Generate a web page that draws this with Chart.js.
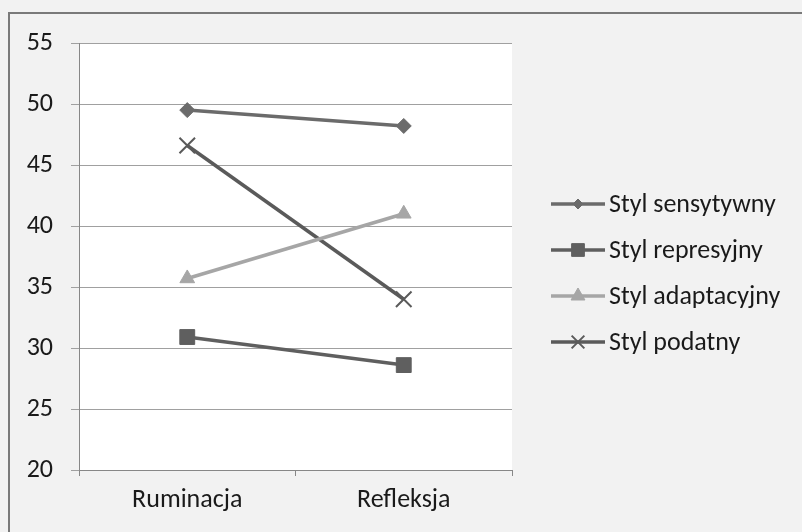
<!DOCTYPE html>
<html>
<head>
<meta charset="utf-8">
<script src="https://cdn.jsdelivr.net/npm/chart.js@4/dist/chart.umd.min.js"></script>
<style>
html,body{margin:0;padding:0;background:#f2f2f2;}
canvas{display:block;}
</style>
</head>
<body>
<canvas id="c" width="802" height="532"></canvas>
<script>
const categories = ['Ruminacja', 'Refleksja'];
const seriesNames = ['Styl sensytywny', 'Styl represyjny', 'Styl adaptacyjny', 'Styl podatny'];
const sensytywny = [49.5, 48.2];
const represyjny = [30.9, 28.6];
const adaptacyjny = [35.7, 41.0];
const podatny = [46.6, 34.0];
const yTicks = [20, 25, 30, 35, 40, 45, 50, 55];

const FONT = "Carlito, 'Liberation Sans Narrow', Lato, sans-serif";
const FONT_SIZE = 26;

const styles = [
  {color: '#6b6b6b', point: 'rectRot', r: 7.5, bw: 1, lw: 3.5, lr: 5},
  {color: '#5f5f5f', point: 'rect', r: 10.5, bw: 1, lw: 3.5, lr: 9},
  {color: '#a6a6a6', point: 'triangle', r: 8.5, bw: 1, lw: 3.5, lr: 8},
  {color: '#5a5a5a', point: 'crossRot', r: 11, bw: 2, lw: 3.5, lr: 9}
];
const values = [sensytywny, represyjny, adaptacyjny, podatny];

const datasets = values.map((v, i) => ({
  label: seriesNames[i],
  data: v,
  borderColor: styles[i].color,
  backgroundColor: styles[i].color,
  borderWidth: styles[i].lw,
  pointStyle: styles[i].point,
  pointRadius: styles[i].r,
  pointBorderWidth: styles[i].bw,
  pointBackgroundColor: styles[i].color,
  pointBorderColor: styles[i].color,
  tension: 0,
  fill: false
}));

const bgPlugin = {
  id: 'bg',
  beforeDraw(chart) {
    const ctx = chart.ctx, a = chart.chartArea;
    ctx.save();
    ctx.fillStyle = '#f2f2f2';
    ctx.fillRect(0, 0, chart.width, chart.height);
    ctx.fillStyle = '#ffffff';
    ctx.fillRect(a.left, a.top, a.right - a.left, a.bottom - a.top);
    ctx.strokeStyle = '#7a7a7a';
    ctx.lineWidth = 2;
    ctx.strokeRect(9, 13, 900, 900);
    ctx.restore();
  }
};

const legendPlugin = {
  id: 'customLegend',
  afterDraw(chart) {
    const ctx = chart.ctx;
    const x0 = 551, x1 = 605, tx = 609, y0 = 204, dy = 46;
    chart.data.datasets.forEach((ds, i) => {
      const y = y0 + i * dy;
      const s = styles[i];
      ctx.save();
      ctx.strokeStyle = s.color;
      ctx.lineWidth = s.lw;
      ctx.beginPath();
      ctx.moveTo(x0, y);
      ctx.lineTo(x1, y);
      ctx.stroke();
      ctx.fillStyle = s.color;
      ctx.strokeStyle = s.color;
      ctx.lineWidth = s.bw;
      Chart.helpers.drawPoint(ctx, {pointStyle: s.point, rotation: 0, borderWidth: s.bw, radius: s.lr}, (x0 + x1) / 2, y);
      ctx.restore();
      ctx.save();
      ctx.font = FONT_SIZE + 'px ' + FONT;
      ctx.fillStyle = '#1a1a1a';
      ctx.textBaseline = 'middle';
      ctx.textAlign = 'left';
      ctx.fillText(ds.label, tx, y + 1);
      ctx.restore();
    });
  }
};

new Chart(document.getElementById('c'), {
  type: 'line',
  data: {labels: categories, datasets},
  options: {
    responsive: false,
    animation: false,
    layout: {padding: {left: 0, top: 43, right: 290, bottom: 0}},
    plugins: {legend: {display: false}, tooltip: {enabled: false}},
    scales: {
      x: {
        offset: true,
        grid: {offset: true, drawOnChartArea: false, drawTicks: true, tickLength: 6, color: '#878787', lineWidth: 1},
        border: {color: '#878787', width: 1},
        ticks: {font: {family: FONT, size: FONT_SIZE}, color: '#1a1a1a', padding: 9},
        afterFit(s) { s.height = 62; }
      },
      y: {
        min: 20, max: 55,
        afterBuildTicks(s) { s.ticks = yTicks.map(v => ({value: v})); },
        grid: {color: '#a0a0a0', lineWidth: 1, tickLength: 8, drawTicks: true},
        border: {color: '#878787', width: 1},
        ticks: {font: {family: FONT, size: FONT_SIZE}, color: '#1a1a1a', padding: 18},
        afterFit(s) { s.width = 79; }
      }
    }
  },
  plugins: [bgPlugin, legendPlugin]
});
</script>
</body>
</html>
